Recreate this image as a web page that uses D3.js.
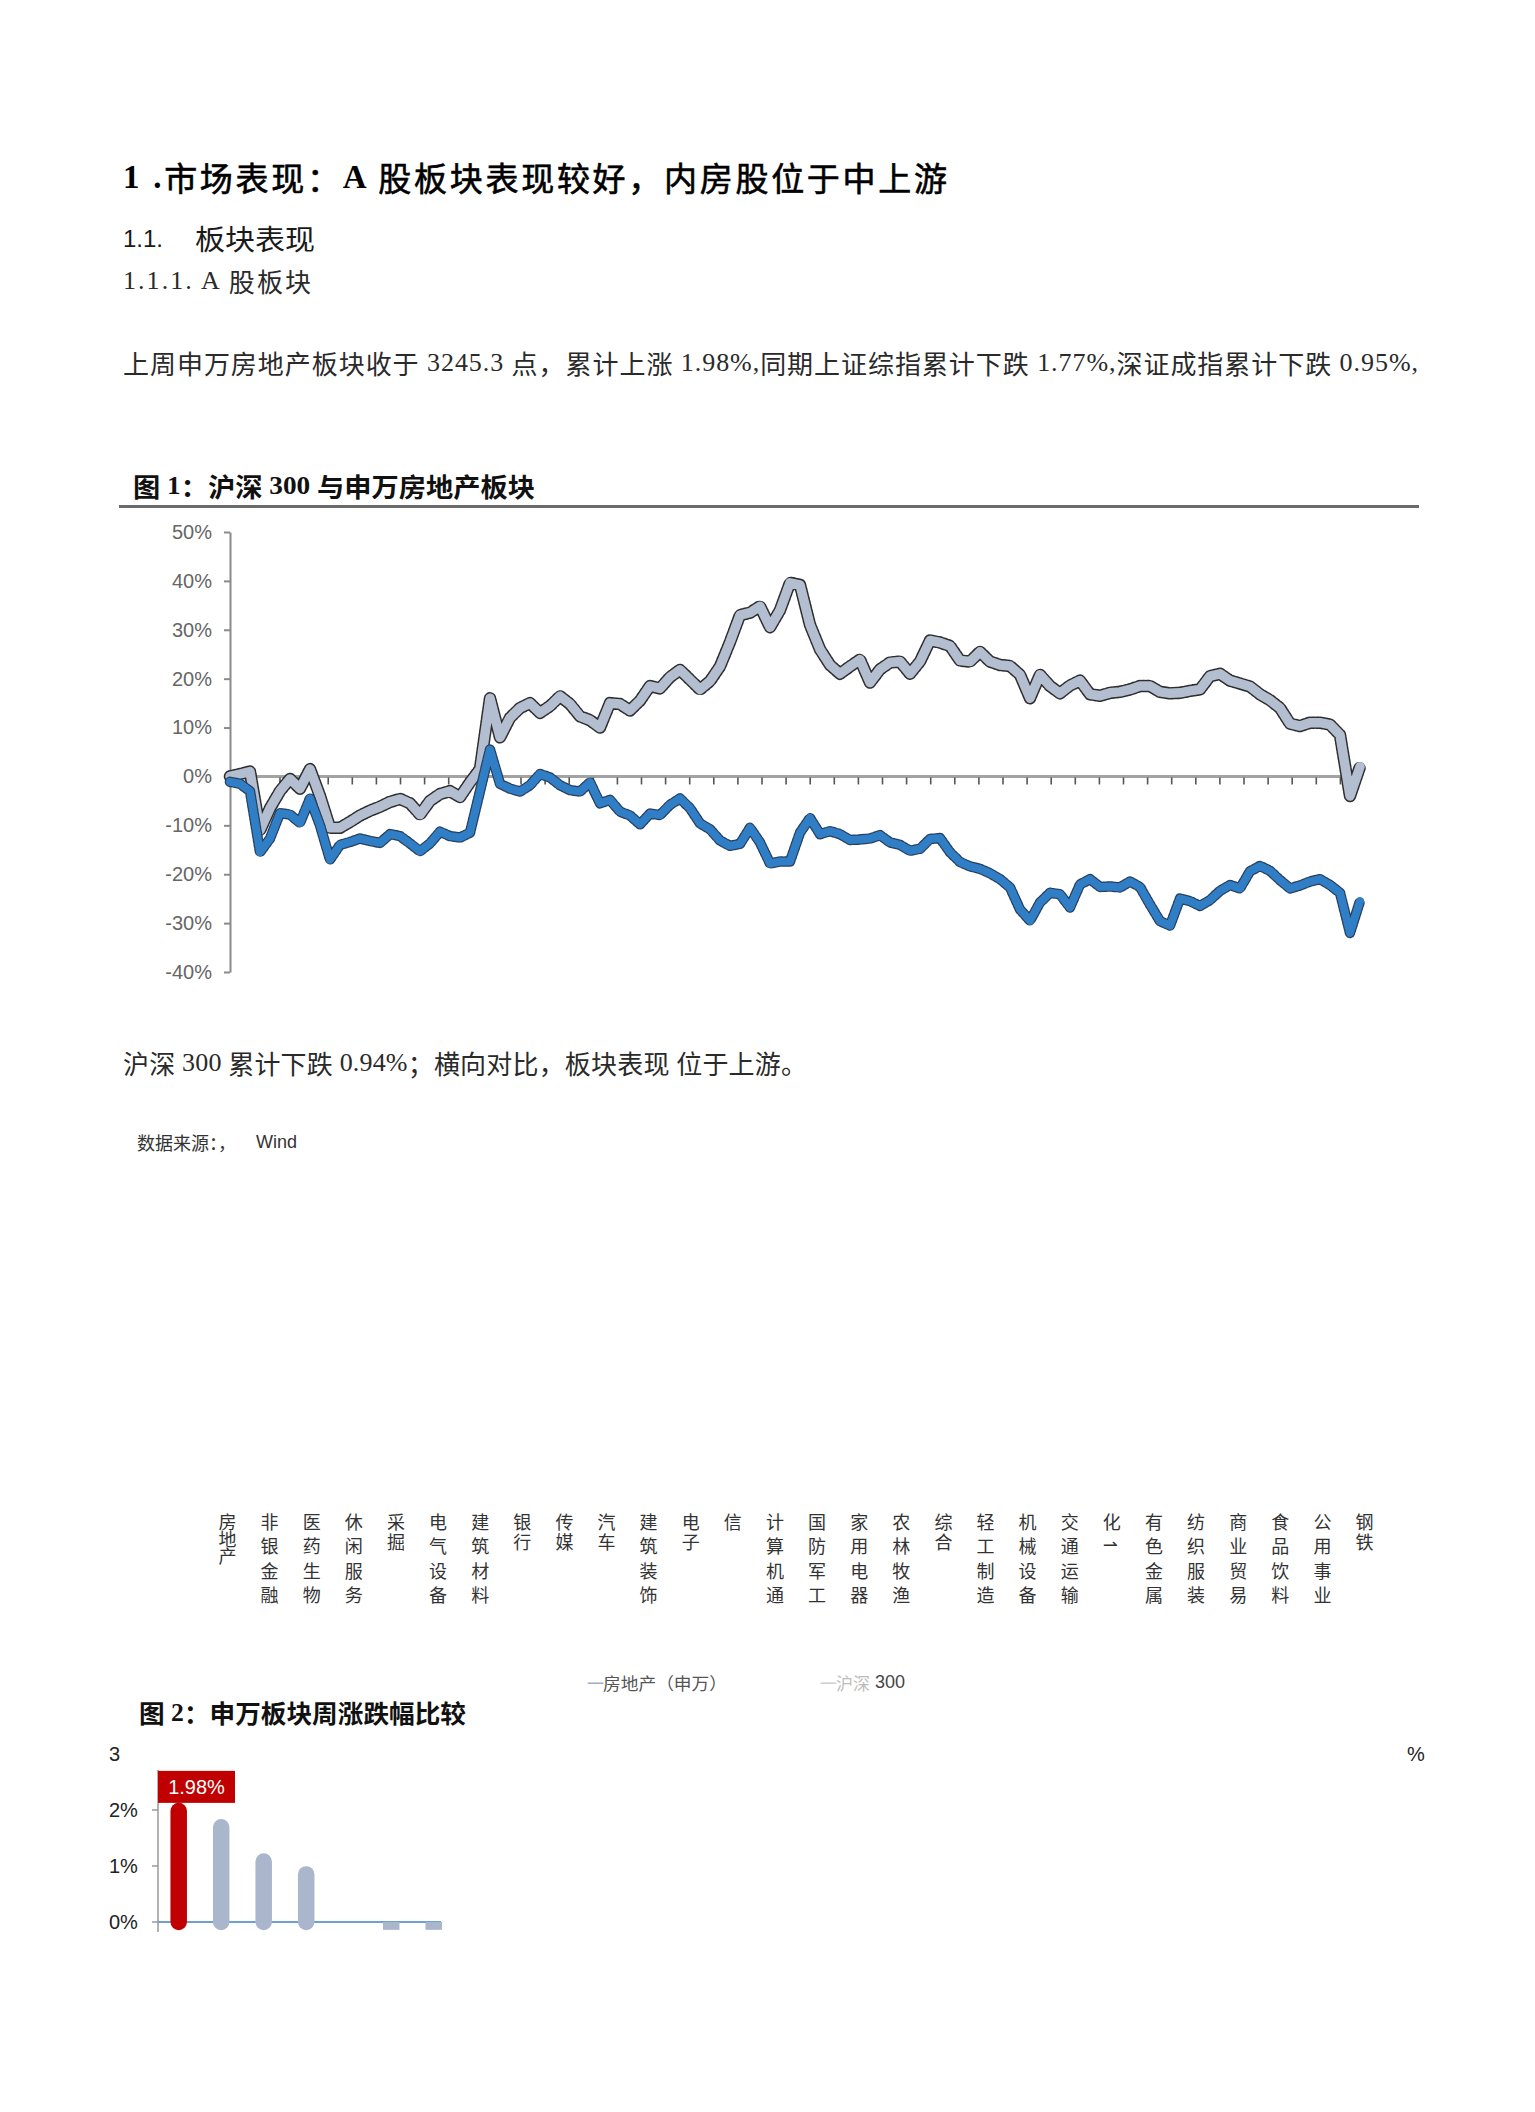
<!DOCTYPE html>
<html><head><meta charset="utf-8">
<script src="https://cdn.jsdelivr.net/npm/d3@7/dist/d3.min.js"></script>
<style>body{margin:0;background:#fff}svg{display:block}</style>
</head><body><svg id="c" width="1535" height="2112"></svg>
<script>
// ---------- data ----------
// Figure 1: cumulative change (%), sampled at equal steps along the time axis
const realEstateSW = [0,0.5,1,-11,-6.5,-3,-0.5,-2.5,1.5,-4,-10.5,-10.5,-9.3,-8,-7,-6.2,-5.2,-4.6,-5.5,-7.8,
  -5,-3.6,-3,-4.2,-1.2,1.5,16,8,12,14,15,13,14.4,16.4,14.8,12.3,11.5,10,15,14.8,
  13.5,15.5,18.5,18,20.3,21.8,19.8,17.8,19.5,22.5,27.5,33,33.5,34.8,30.5,34,39.6,39.2,31,26,
  22.8,21,22.5,23.9,19.2,21.9,23.3,23.5,21,23.5,27.8,27.4,26.7,23.7,23.5,25.5,23.5,22.8,22.6,20.8,
  16,20.8,18.5,17,18.6,19.6,16.8,16.5,17.1,17.3,17.8,18.5,18.5,17.3,17,17.1,17.5,17.8,20.5,21,
  19.6,19,18.4,16.8,15.6,14,10.8,10.3,11,11,10.6,8.5,-4,2];
const hs300 = [-1.1,-1.5,-3,-15.5,-12.7,-7.5,-7.8,-9.5,-4.5,-10,-17,-14,-13.4,-12.7,-13.2,-13.6,-11.8,-12.2,-13.7,-15.3,
  -13.7,-11.3,-12.2,-12.5,-11.5,-3,5.5,-1.5,-2.5,-3.1,-1.8,0.5,-0.2,-1.8,-2.8,-3.1,-1.2,-5.5,-4.8,-7.2,
  -8,-9.8,-7.6,-7.9,-5.8,-4.5,-6.5,-9.6,-10.8,-13.1,-14.2,-13.8,-10.5,-13.5,-17.8,-17.4,-17.4,-11.5,-8.5,-11.8,
  -11.2,-11.8,-13,-12.9,-12.7,-12,-13.5,-14,-15.2,-14.8,-12.8,-12.6,-15.5,-17.5,-18.4,-18.9,-19.8,-21,-22.7,-27.2,
  -29.5,-25.8,-23.8,-24.1,-26.8,-22.1,-21,-22.6,-22.5,-22.7,-21.5,-22.6,-26.2,-29.6,-30.5,-25,-25.5,-26.5,-25.3,-23.4,
  -22.2,-22.9,-19.4,-18.3,-19.3,-21.2,-22.9,-22.3,-21.5,-21,-22.2,-23.8,-32,-25.5];
const yTickValues = [50,40,30,20,10,0,-10,-20,-30,-40];
const monthTicks = d3.range(1,47);
const legendItems = ["房地产（申万）","沪深 300"];
// Figure 2: weekly change by SW sector (%)
const sectorLabels = ["房地产","非银金融","医药生物","休闲服务","采掘","电气设备","建筑材料","银行","传媒","汽车",
  "建筑装饰","电子","信","计算机通","国防军工","家用电器","农林牧渔","综合","轻工制造","机械设备",
  "交通运输","化⇀","有色金属","纺织服装","商业贸易","食品饮料","公用事业","钢铁"];
const weeklyChange = [1.98,1.69,1.08,0.85,0,-0.14,-0.14];
const weeklyTicks = [0,1,2,3];

// ---------- drawing ----------
const svg = d3.select("#c");
svg.append("rect").attr("width",1535).attr("height",2112).attr("fill","#fff");
const CJK = "'Noto Sans CJK SC','Noto Sans',sans-serif";
const SANS = "'Liberation Sans',Arial,'Noto Sans CJK SC',sans-serif";
const SERIF = "'Liberation Serif','Noto Sans CJK SC',serif";

function txt(x,y,s,o={}){
  const t = svg.append("text").attr("x",x).attr("y",y).text(s)
    .attr("dominant-baseline","central")
    .attr("font-family",o.ff||CJK).attr("font-size",o.fs||20)
    .attr("fill",o.fill||"#222").attr("font-weight",o.fw||"normal")
    .attr("text-anchor",o.anchor||"start");
  if(o.len){t.attr("textLength",o.len).attr("lengthAdjust",o.adj||"spacingAndGlyphs");}
  return t;
}
const isCJK = ch => ch.codePointAt(0) >= 0x2E80;
// text whose CJK and Latin runs use different fonts
function rich(x,y,str,o){
  const t = svg.append("text").attr("x",x).attr("y",y).attr("dominant-baseline","central")
    .attr("font-family",CJK).attr("font-size",o.cjkFS).attr("fill",o.fill||"#222");
  const runs=[];
  Array.from(str).forEach(ch=>{
    const c=isCJK(ch);
    if(runs.length && runs[runs.length-1].c===c) runs[runs.length-1].s+=ch; else runs.push({c,s:ch});
  });
  runs.forEach(r=>{
    const ts=t.append("tspan").text(r.s)
      .attr("font-family",r.c?CJK:o.latFF)
      .attr("font-size",r.c?o.cjkFS:o.latFS)
      .attr("font-weight",r.c?(o.cjkFW||"normal"):(o.latFW||"normal"));
    if(r.c && o.cjkStroke) ts.attr("stroke",o.fill||"#000").attr("stroke-width",o.cjkStroke);
  });
  if(o.len) t.attr("textLength",o.len).attr("lengthAdjust",o.adj||"spacing");
  return t;
}

// headings
rich(123,177,"1 .市场表现：A 股板块表现较好，内房股位于中上游",{cjkFS:33,latFS:33,latFF:SERIF,latFW:"bold",cjkStroke:0.6,fill:"#000",len:824});
txt(123,238,"1.1.",{ff:SANS,fs:24,fill:"#1a1a1a"});
txt(195,238,"板块表现",{fs:28,fill:"#1a1a1a",len:120});
rich(123,280,"1.1.1. A 股板块",{cjkFS:26,latFS:26,latFF:SERIF,fill:"#2a2a2a",len:188});
rich(123,362,"上周申万房地产板块收于 3245.3 点，累计上涨 1.98%,同期上证综指累计下跌 1.77%,深证成指累计下跌 0.95%,",{cjkFS:26,latFS:26,latFF:SERIF,fill:"#2a2a2a",len:1295});

// figure 1 title + rule
rich(133,485,"图 1：沪深 300 与申万房地产板块",{cjkFS:26,latFS:26,latFF:SERIF,latFW:"bold",cjkFW:"bold",fill:"#111",len:402,adj:"spacingAndGlyphs"});
svg.append("line").attr("x1",119).attr("x2",1419).attr("y1",506.5).attr("y2",506.5).attr("stroke","#6b6b6b").attr("stroke-width",3);

// figure 1 chart
const y1 = d3.scaleLinear().domain([-40,50]).range([972,532]);
const xIdx = d3.scaleLinear().domain([0,realEstateSW.length-1]).range([230,1360]);
const xMonth = d3.scaleLinear().domain([0,46]).range([231.3,1339.9]);

const yAx = svg.append("g").attr("transform","translate(230,0)")
  .call(d3.axisLeft(y1).tickValues(yTickValues).tickSize(6).tickSizeOuter(0).tickPadding(12).tickFormat(d=>d+"%"));
yAx.select(".domain").attr("stroke","#8a8a8a").attr("stroke-width",2);
yAx.selectAll(".tick line").attr("stroke","#8a8a8a").attr("stroke-width",2);
yAx.selectAll(".tick text").attr("font-family",SANS).attr("font-size",20).attr("fill","#666");

// zero line with monthly ticks
svg.append("line").attr("x1",230).attr("x2",1346).attr("y1",y1(0)).attr("y2",y1(0)).attr("stroke","#a3a3a3").attr("stroke-width",3);
const xAx = svg.append("g").attr("transform",`translate(0,${y1(0)+1})`)
  .call(d3.axisBottom(xMonth).tickValues(monthTicks).tickSize(7).tickFormat(""));
xAx.select(".domain").remove();
xAx.selectAll(".tick line").attr("stroke","#555").attr("stroke-width",1.6);

const line = d3.line().x((d,i)=>xIdx(i)).y(d=>y1(d));
function drawSeries(data, edge, fill, wOuter, wInner){
  svg.append("path").datum(data).attr("d",line).attr("fill","none").attr("stroke",edge)
    .attr("stroke-width",wOuter).attr("stroke-dasharray","2.5,2").attr("stroke-linejoin","round").attr("stroke-linecap","round");
  svg.append("path").datum(data).attr("d",line).attr("fill","none").attr("stroke",fill)
    .attr("stroke-width",wInner).attr("stroke-linejoin","round").attr("stroke-linecap","round");
}
drawSeries(realEstateSW,"#2e2e2e","#b3bed1",12.5,9.5);
drawSeries(hs300,"#27405e","#2f7ec6",10.5,8);

// text below chart
rich(123,1062,"沪深 300 累计下跌 0.94%；横向对比，板块表现 位于上游。",{cjkFS:26,latFS:26,latFF:SERIF,fill:"#2a2a2a",len:684});
txt(137,1142,"数据来源：，",{fs:18,fill:"#333"});
txt(256,1142,"Wind",{ff:SANS,fs:18,fill:"#333"});

// sector labels (vertical text, one text element per label)
const labelX = d3.scalePoint().domain(d3.range(sectorLabels.length)).range([227.5,1364.5]);
const pitch = {1:18,2:20.5,3:17,4:24.4};
sectorLabels.forEach((lab,i)=>{
  const n = Array.from(lab).length;
  svg.append("text").attr("x",labelX(i)).attr("y",1522-9).text(lab)
    .attr("font-size",18).attr("fill","#333")
    .attr("font-family","'Noto Sans CJK SC','DejaVu Sans',sans-serif")
    .style("writing-mode","vertical-rl").style("text-orientation","upright")
    .style("letter-spacing",(pitch[n]-18)+"px");
});

// legend
const legColors = [["#9eb0c8","#555"],["#cfcfcf","#bdbdbd"]];
txt(587,1682,"一",{fs:17,fill:legColors[0][0]});
txt(603,1682,legendItems[0],{fs:17,fill:legColors[0][1],len:124});
txt(820,1682,"一",{fs:17,fill:legColors[1][0]});
txt(836,1682,legendItems[1].split(" ")[0],{fs:17,fill:legColors[1][1]});
txt(875,1682,legendItems[1].split(" ")[1],{ff:SANS,fs:18,fill:"#444"});

// figure 2 title
rich(139,1712,"图 2：申万板块周涨跌幅比较",{cjkFS:25,latFS:25,latFF:SERIF,latFW:"bold",cjkFW:"bold",fill:"#111",len:327,adj:"spacingAndGlyphs"});

// figure 2 chart
const y2 = d3.scaleLinear().domain([0,2]).range([1922,1810]);
const barX = d3.scalePoint().domain(d3.range(sectorLabels.length)).range([178.7,178.7+27*42.5]);
weeklyTicks.forEach(t=>{
  txt(109,y2(t),t===3?"3":t+"%",{ff:SANS,fs:20,fill:"#222"});
  if(t<3) svg.append("line").attr("x1",152).attr("x2",158).attr("y1",y2(t)).attr("y2",y2(t)).attr("stroke","#999").attr("stroke-width",1.5);
});
txt(1407,y2(3),"%",{ff:SANS,fs:20,fill:"#222"});
svg.append("line").attr("x1",158).attr("x2",158).attr("y1",1770).attr("y2",1932).attr("stroke","#999").attr("stroke-width",1.5);
svg.append("line").attr("x1",158).attr("x2",441).attr("y1",y2(0)).attr("y2",y2(0)).attr("stroke","#6fa0d3").attr("stroke-width",2);
const bw = 16.5;
weeklyChange.forEach((v,i)=>{
  const col = i===0?"#c00000":"#aab6cb";
  if(v>0){
    svg.append("line").attr("x1",barX(i)).attr("x2",barX(i)).attr("y1",y2(0)).attr("y2",y2(v))
      .attr("stroke",col).attr("stroke-width",bw).attr("stroke-linecap","round");
  } else if(v<0){
    svg.append("rect").attr("x",barX(i)-bw/2).attr("y",y2(0)).attr("width",bw).attr("height",y2(v)-y2(0)).attr("fill",col);
  }
});
// highlighted value label
const topY = y2(weeklyChange[0])-bw/2;
svg.append("rect").attr("x",158).attr("y",topY-32).attr("width",77).attr("height",32).attr("fill","#c00000");
txt(196.5,topY-16,d3.format(".2f")(weeklyChange[0])+"%",{ff:SANS,fs:20,fill:"#fff",anchor:"middle"});
</script></body></html>
